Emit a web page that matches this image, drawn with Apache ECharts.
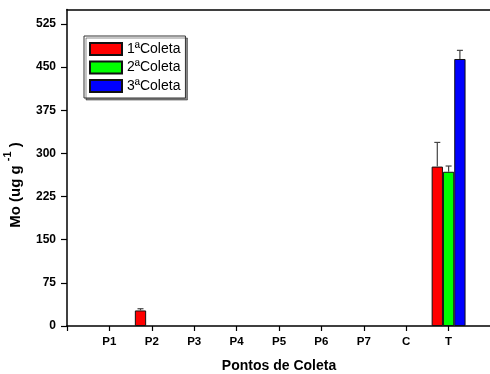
<!DOCTYPE html>
<html>
<head>
<meta charset="utf-8">
<script src="https://cdn.jsdelivr.net/npm/echarts@6/dist/echarts.min.js"></script>
<style>html,body{margin:0;padding:0;background:#fff}#c{width:490px;height:374px}</style>
</head>
<body>
<div id="c"></div>
<script>
// ---- data ----
const categories = ['P1', 'P2', 'P3', 'P4', 'P5', 'P6', 'P7', 'C', 'T'];
const seriesNames = ['1ªColeta', '2ªColeta', '3ªColeta'];
const coleta1 = [null, 27, null, null, null, null, null, null, 277];
const coleta2 = [null, null, null, null, null, null, null, null, 268];
const coleta3 = [null, null, null, null, null, null, null, null, 464];
const err1 = [null, 3, null, null, null, null, null, null, 42];
const err2 = [null, null, null, null, null, null, null, null, 10];
const err3 = [null, null, null, null, null, null, null, null, 15];
const yTicks = [0, 75, 150, 225, 300, 375, 450, 525];
const yMax = 550;

// ---- build ----
const cats = [''].concat(categories, ['']);
const pad = arr => ['-'].concat(arr.map(v => v == null ? '-' : v), ['-']);
const colors = ['#FF0000', '#00FF00', '#0000FF'];
const values = [coleta1, coleta2, coleta3];
const errs = [err1, err2, err3];
const FONT = 'Arial, "Liberation Sans", sans-serif';
const BW = 11.3;

const series = [];
values.forEach((vals, i) => {
  series.push({
    name: seriesNames[i], type: 'bar', data: pad(vals),
    barWidth: BW, barGap: '0%',
    itemStyle: { color: colors[i], borderColor: '#111', borderWidth: 1 },
    z: 2
  });
});
values.forEach((vals, i) => {
  const data = [];
  vals.forEach((v, k) => { if (v != null && errs[i][k] != null) data.push([k + 1, v, errs[i][k]]); });
  series.push({
    type: 'custom', data: data, z: 3, silent: true,
    renderItem: function (params, api) {
      const x = api.value(0), v = api.value(1), e = api.value(2);
      const off = (i - 1) * BW;
      const p0 = api.coord([x, v]);
      const p1 = api.coord([x, v + e]);
      const cx = p0[0] + off;
      const st = { stroke: '#444', lineWidth: 1.2 };
      return { type: 'group', children: [
        { type: 'line', shape: { x1: cx, y1: p0[1], x2: cx, y2: p1[1] }, style: st },
        { type: 'line', shape: { x1: cx - 3, y1: p1[1], x2: cx + 3, y2: p1[1] }, style: st }
      ]};
    }
  });
});

const chart = echarts.init(document.getElementById('c'), null, { renderer: 'canvas' });
chart.setOption({
  animation: false,
  backgroundColor: '#fff',
  textStyle: { fontFamily: FONT },
  grid: { left: 67, right: -1, top: 9.5, bottom: 48, containLabel: false, outerBoundsMode: 'none' },
  legend: {
    data: seriesNames, orient: 'vertical', left: 84, top: 36,
    itemWidth: 32, itemHeight: 12, itemGap: 4.5,
    padding: [6, 5, 5, 5],
    borderColor: '#333', borderWidth: 1, backgroundColor: '#fff',
    shadowColor: 'rgba(0,0,0,0.45)', shadowOffsetX: 2, shadowOffsetY: 2, shadowBlur: 0,
    icon: 'rect',
    textStyle: { fontFamily: FONT, fontSize: 14, color: '#000' }
  },
  xAxis: [{
    type: 'category', data: cats, boundaryGap: false,
    name: 'Pontos de Coleta', nameLocation: 'middle', nameGap: 33,
    nameTextStyle: { fontFamily: FONT, fontSize: 14, fontWeight: 'bold', color: '#000' },
    axisLine: { lineStyle: { color: '#000', width: 1.5 } },
    axisTick: { show: true, length: 5, inside: false, lineStyle: { color: '#000', width: 1.2 } },
    axisLabel: { interval: 0, margin: 10, fontFamily: FONT, fontSize: 11.5, fontWeight: 'bold', color: '#000' },
    splitLine: { show: false }
  }, {
    type: 'category', data: cats, boundaryGap: false, position: 'top',
    axisLine: { lineStyle: { color: '#000', width: 1.5 } },
    axisTick: { show: false }, axisLabel: { show: false }, splitLine: { show: false }
  }],
  yAxis: {
    type: 'value', min: 0, max: yMax,
    axisLine: { show: true, lineStyle: { color: '#000', width: 1.5 } },
    axisTick: { show: true, length: 6, customValues: yTicks, lineStyle: { color: '#000', width: 1.2 } },
    axisLabel: { customValues: yTicks, margin: 11, fontFamily: FONT, fontSize: 12, fontWeight: 'bold', color: '#000' },
    splitLine: { show: false }
  },
  graphic: [{
    type: 'text', x: 16, y: 185, rotation: Math.PI / 2,
    style: {
      text: '{a|Mo (ug g }{s|-1}{a| )}',
      align: 'center', verticalAlign: 'middle',
      rich: {
        a: { fontFamily: FONT, fontSize: 15, fontWeight: 'bold', fill: '#000', lineHeight: 28, verticalAlign: 'middle' },
        s: { fontFamily: FONT, fontSize: 11, fontWeight: 'bold', fill: '#000', lineHeight: 28, verticalAlign: 'top' }
      }
    }
  }],
  series: series
});
</script>
</body>
</html>
